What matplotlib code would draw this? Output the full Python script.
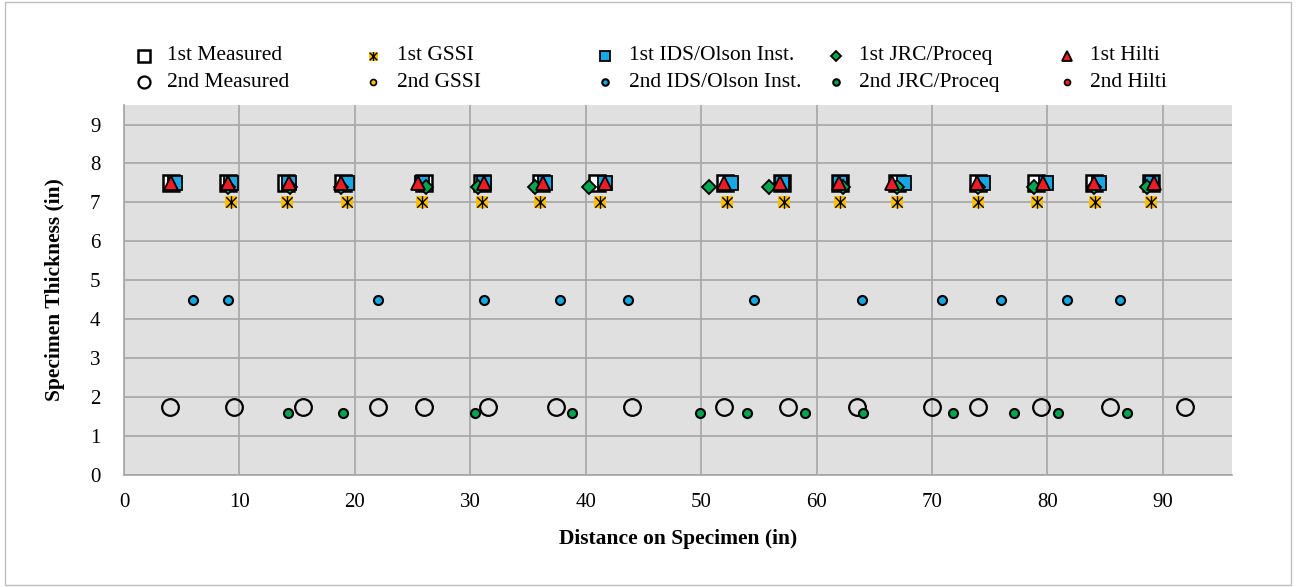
import numpy as np
import matplotlib.pyplot as plt
from matplotlib.lines import Line2D
from matplotlib.path import Path
from matplotlib.patches import Rectangle

plt.rcParams['font.family'] = ['Liberation Serif', 'DejaVu Serif']

# data (in)
meas1_x = [4.1, 9.0, 14.0, 19.0, 26.0, 31.0, 36.1, 41.0, 52.1, 57.0, 62.0, 67.0, 74.0, 79.0, 84.0, 89.0]
meas1_y = [7.5] * len(meas1_x)
meas2_x = [4.0, 9.5, 15.5, 22.0, 26.0, 31.5, 37.4, 44.0, 52.0, 57.5, 63.5, 70.0, 74.0, 79.4, 85.4, 91.9]
meas2_y = [1.75] * len(meas2_x)

gssi1_x = [9.3, 14.1, 19.3, 25.8, 31.0, 36.0, 41.2, 52.2, 57.2, 62.0, 67.0, 74.0, 79.1, 84.1, 89.0]
gssi1_y = [7.0] * len(gssi1_x)
gssi2_x = []
gssi2_y = []

ids1_x = [4.4, 9.3, 14.3, 19.3, 25.8, 31.2, 36.5, 41.7, 52.6, 57.0, 62.0, 67.6, 74.4, 79.9, 84.5, 89.1]
ids1_y = [7.5] * len(ids1_x)
ids2_x = [6.0, 9.05, 22.0, 31.2, 37.8, 43.7, 54.6, 63.9, 70.9, 76.0, 81.7, 86.3]
ids2_y = [4.5] * len(ids2_x)

jrc1_x = [9.0, 14.4, 18.8, 26.2, 30.7, 35.6, 40.3, 50.7, 55.9, 62.3, 67.0, 74.0, 78.8, 84.0, 88.6]
jrc1_y = [7.4] * len(jrc1_x)
jrc2_x = [14.2, 19.0, 30.4, 38.8, 49.9, 54.0, 59.0, 64.0, 71.8, 77.1, 80.9, 86.9]
jrc2_y = [1.6] * len(jrc2_x)

hil1_x = [4.1, 9.0, 14.3, 18.8, 25.5, 31.2, 36.3, 41.7, 52.0, 56.8, 61.9, 66.5, 73.9, 79.6, 84.0, 89.2]
hil1_y = [7.5] * len(hil1_x)
hil2_x = []
hil2_y = []

ORANGE = '#FFC000'
BLUE = '#17A8E3'
GREEN = '#00A64F'
RED = '#EE1C25'

# Excel-style star: an X with a vertical bar
star = Path([(-1, -1), (1, 1), (-1, 1), (1, -1), (0, -1.2), (0, 1.2)],
            [Path.MOVETO, Path.LINETO, Path.MOVETO, Path.LINETO, Path.MOVETO, Path.LINETO])

styles = {
    'meas1': [dict(marker='s', ms=12, mfc='white', mec='black', mew=1.8)],
    'meas2': [dict(marker='o', ms=12, mfc='none', mec='black', mew=1.6)],
    'gssi1': [dict(marker='s', ms=9, mfc=ORANGE, mec='none', mew=0),
              dict(marker=star, ms=9, mfc='none', mec='black', mew=1.0)],
    'gssi2': [dict(marker='o', ms=6, mfc=ORANGE, mec='black', mew=1.2)],
    'ids1': [dict(marker='s', ms=10, mfc=BLUE, mec='black', mew=1.3)],
    'ids2': [dict(marker='o', ms=6.5, mfc=BLUE, mec='black', mew=1.5)],
    'jrc1': [dict(marker='D', ms=7, mfc=GREEN, mec='black', mew=1.3)],
    'jrc2': [dict(marker='o', ms=6.5, mfc=GREEN, mec='black', mew=1.5)],
    'hil1': [dict(marker='^', ms=10, mfc=RED, mec='black', mew=1.3)],
    'hil2': [dict(marker='o', ms=6, mfc=RED, mec='black', mew=1.2)],
}

series = [
    ('meas1', '1st Measured', meas1_x, meas1_y),
    ('meas2', '2nd Measured', meas2_x, meas2_y),
    ('gssi1', '1st GSSI', gssi1_x, gssi1_y),
    ('gssi2', '2nd GSSI', gssi2_x, gssi2_y),
    ('ids1', '1st IDS/Olson Inst.', ids1_x, ids1_y),
    ('ids2', '2nd IDS/Olson Inst.', ids2_x, ids2_y),
    ('jrc1', '1st JRC/Proceq', jrc1_x, jrc1_y),
    ('jrc2', '2nd JRC/Proceq', jrc2_x, jrc2_y),
    ('hil1', '1st Hilti', hil1_x, hil1_y),
    ('hil2', '2nd Hilti', hil2_x, hil2_y),
]

fig = plt.figure(figsize=(12.96, 5.87), dpi=100)
fig.patches.append(Rectangle((0.004, 0.004), 0.992, 0.992, transform=fig.transFigure,
                             fill=False, ec='#BFBFBF', lw=1))

ax = fig.add_axes([0.0957, 0.191, 0.855, 0.63])
ax.set_facecolor('#E0E0E0')

z = 3
for key, label, x, y in series:
    for st in styles[key]:
        ax.plot(x, y, ls='none', zorder=z, clip_on=False, **st)
        z += 0.1

ax.set_xlim(0, 96)
ax.set_ylim(0, 9.5)
ax.set_xticks(np.arange(0, 91, 10))
ax.set_yticks(np.arange(0, 10, 1))
ax.grid(True, color='#A6A6A6', lw=1.2)
ax.set_axisbelow(True)
for s in ['top', 'right']:
    ax.spines[s].set_visible(False)
for s in ['left', 'bottom']:
    ax.spines[s].set_color('#A6A6A6')
    ax.spines[s].set_linewidth(1.2)
ax.tick_params(length=0, labelsize=15, pad=13)
ax.tick_params(axis='y', pad=17)

ax.set_xlabel('Distance on Specimen (in)', fontsize=15.5, fontweight='bold', labelpad=12)
ax.set_ylabel('Specimen Thickness (in)', fontsize=15.5, fontweight='bold', labelpad=18)

# legend laid out like the Excel one: 5 equal columns, 2 rows
col_x = [0.111, 0.288, 0.467, 0.645, 0.823]
row_y = [0.905, 0.860]
for i, (key, label, x, y) in enumerate(series):
    cx = col_x[i // 2]
    cy = row_y[i % 2]
    for st in styles[key]:
        st2 = dict(st)
        st2['ms'] = st['ms'] * 0.72
        fig.add_artist(Line2D([cx], [cy], ls='none', transform=fig.transFigure, **st2))
    fig.text(cx + 0.018, cy, label, fontsize=15.5, va='center', ha='left')

fig.savefig('out.png', dpi=100)
